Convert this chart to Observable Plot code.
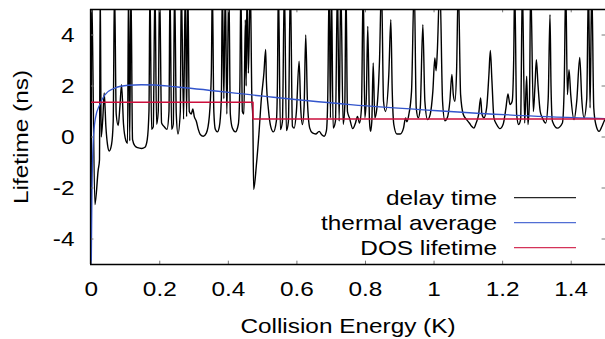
<!DOCTYPE html>
<html><head><meta charset="utf-8">
<script src="https://cdn.jsdelivr.net/npm/d3@7"></script>
<script src="https://cdn.jsdelivr.net/npm/@observablehq/plot@0.6"></script>
<style>html,body{margin:0;padding:0;background:#fff} svg{display:block}</style>
</head><body><div id="chart"></div>
<script>
// [collision energy (K), delay time (ns)] -- values above 5 are clipped resonance peaks
const delayTime = [
[0,-6],[0.001,6],[0.0108,-2.65],[0.0204,-1.3],[0.0242,-0.9],[0.0263,6],[0.0292,0.0],[0.0342,0.8],[0.038,1.73],[0.0429,0.4],
[0.0476,-0.3],[0.0526,-0.55],[0.0593,-0.3],[0.0642,0.6],[0.068,6],[0.073,0.9],[0.0788,0.45],[0.0838,1.2],[0.0885,2.05],[0.0943,0.5],
[0.1013,-0.15],[0.106,-0.25],[0.1089,6],[0.1124,-0.15],[0.1159,6],[0.1206,-0.1],[0.1276,-0.35],[0.1352,-0.42],[0.1469,-0.45],[0.1568,-0.4],
[0.1635,-0.1],[0.1685,1.0],[0.1714,6],[0.1761,0.3],[0.181,0.4],[0.186,6],[0.1907,0.5],[0.1956,1.0],[0.1994,6],[0.2053,0.55],
[0.2131,0.4],[0.221,0.3],[0.2269,1.0],[0.2298,6],[0.2345,0.3],[0.2394,0.5],[0.2432,6],[0.2482,0.9],
[0.2531,0.12],[0.2599,1.0],[0.2628,6],[0.2695,0.7],[0.2745,6],[0.2783,0.8],[0.2818,6],[0.2861,1.0],[0.292,0.9],[0.2964,1.1],
[0.3007,0.8],[0.3066,0.62],[0.3124,0.3],[0.3182,0.1],[0.327,0.03],[0.3358,0.15],[0.3445,0.8],[0.3504,2.5],[0.3533,6],[0.3577,1.0],
[0.362,0.3],[0.3679,0.2],[0.3737,0.4],[0.3796,1.5],[0.3825,6],[0.3869,1.5],[0.3912,6],[0.3956,0.9],[0.4015,6],[0.4058,0.9],
[0.4117,0.35],[0.4204,0.2],[0.4292,0.5],[0.4336,2.0],[0.4365,6],[0.4409,1.0],[0.4453,0.9],[0.4496,4.6],[0.452,2.0],[0.4546,6],
[0.4584,2.5],[0.4642,6],[0.4686,1.5],[0.4713,0.8],[0.4739,-2.06],[0.4818,-1.1],[0.4891,0.1],[0.4963,1.5],
[0.5037,2.5],[0.5089,3.43],[0.511,2.2],[0.5168,1.1],[0.5235,0.42],[0.5314,0.2],[0.5401,0.62],[0.5431,2.0],[0.546,6],[0.5518,0.29],
[0.5577,0.6],[0.5635,6],[0.5693,0.25],[0.5752,0.6],[0.581,6],[0.5869,0.42],[0.5918,0.35],[0.5985,1.0],[0.6064,2.97],[0.6111,1.14],
[0.6161,0.49],[0.621,1.2],[0.6257,4.0],[0.6307,1.4],[0.6374,0.35],[0.6453,0.16],[0.6549,0.12],[0.6648,0.22],[0.6724,0.09],[0.6794,0.03],
[0.6861,0.25],[0.6899,1.5],[0.694,6],[0.6978,0.75],[0.7007,6],[0.7057,0.35],[0.7124,0.62],[0.7183,6],[0.7232,0.62],[0.7279,6],
[0.7349,0.5],[0.7396,1.2],[0.7431,6],[0.7474,1.0],
[0.7533,0.75],[0.7629,0.33],[0.7708,0.55],[0.7767,0.81],[0.7825,0.55],[0.7883,1.14],[0.7933,6],[0.798,0.75],[0.8023,1.5],[0.8067,4.34],
[0.8117,0.62],[0.8146,0.22],[0.8184,0.6],[0.8225,2.9],[0.8272,0.75],[0.833,1.1],[0.8409,3.0],[0.8467,6],[0.8526,1.4],[0.8584,1.0],
[0.868,2.45],[0.8739,4.6],[0.878,1.8],[0.8826,0.49],[0.8914,0.12],[0.9013,0.12],[0.9109,0.35],[0.9168,0.75],[0.9206,0.6],[0.9264,0.88],
[0.9343,1.8],[0.9422,6],[0.948,1.14],[0.9539,0.75],[0.9597,1.14],[0.9673,4.4],[0.9732,1.4],[0.981,0.68],[0.9889,0.9],[0.9965,1.8],
[1.0023,3.1],[1.0058,2.6],[1.0093,3.3],
[1.0169,6],[1.0248,1.4],[1.0315,0.64],[1.0385,0.75],[1.0461,1.4],[1.052,2.45],[1.0561,1.66],[1.0607,1.4],[1.0657,2.6],[1.0707,6],
[1.0774,1.66],[1.0853,0.88],[1.0949,0.68],[1.1028,0.55],[1.1095,0.42],[1.1162,0.35],[1.1227,0.55],[1.1299,0.88],[1.1358,1.53],[1.1396,0.9],
[1.1454,0.75],[1.1533,1.14],[1.16,2.45],[1.1641,3.39],[1.1688,2.2],[1.1746,0.75],[1.1825,0.49],[1.1921,0.33],[1.2015,0.5],[1.2097,1.14],
[1.2155,1.69],[1.2214,1.27],[1.2278,1.4],[1.2322,3.0],[1.2351,6],[1.2409,0.88],[1.2468,0.49],[1.2526,0.7],
[1.2575,6],[1.2642,0.55],[1.2701,2.38],[1.2739,0.49],[1.2783,1.5],[1.2818,6],[1.2896,1.0],[1.2943,2.0],[1.2984,3.03],[1.3031,2.05],
[1.3096,1.0],[1.3159,0.75],[1.3256,0.55],[1.3329,1.5],[1.3381,4.8],[1.3411,2.0],[1.3452,0.62],[1.3597,0.35],[1.3743,0.55],[1.3796,2.0],
[1.384,6],[1.3889,1.66],[1.3936,2.64],[1.3986,1.66],[1.4082,0.68],[1.4161,1.4],[1.4249,3.12],[1.4307,1.5],[1.4374,0.75],[1.4453,1.5],
[1.4503,6],[1.455,1.14],[1.4599,6],[1.4658,1.14],[1.4717,0.5],[1.4813,0.22],[1.4891,0.4],[1.4959,0.62],[1.5038,0.8]
];
// thermal average [energy, lifetime]
const thermalAverage = [
[0,-5.5],[0.002,-2.5],[0.006,-0.16],[0.0126,0.75],[0.025,1.27],[0.04,1.65],[0.069,1.92],[0.108,2.03],[0.146,2.05],[0.186,2.04],
[0.245,1.97],[0.502,1.6],[0.756,1.27],[1.01,1.03],[1.258,0.84],[1.5,0.72]
];
// DOS lifetime step [energy, lifetime]
const dosLifetime = [[0,1.36],[0.472,1.36],[0.472,0.71],[1.5,0.71]];

const xDomain = [-0.002, 1.5];
const yDomain = [-5, 5];
const xTicks = [0, 0.2, 0.4, 0.6, 0.8, 1, 1.2, 1.4];
const yTicks = [-4, -2, 0, 2, 4];
const seriesNames = ["delay time", "thermal average", "DOS lifetime"];
const seriesColors = ["#000000", "#3355cc", "#cc0f3c"];
const xLabel = "Collision Energy (K)";
const yLabel = "Lifetime (ns)";

const FONT = "'Liberation Sans', Arial, Helvetica, sans-serif";
const FS = 21;

const toObj = a => a.map(([e, t]) => ({e, t}));

const svg = Plot.plot({
  width: 605, height: 339,
  marginLeft: 90, marginRight: 0, marginTop: 9, marginBottom: 75,
  x: {domain: xDomain, axis: null},
  y: {domain: yDomain, axis: null},
  style: {fontFamily: FONT, fontSize: FS + "px", color: "#000", background: "#fff", overflow: "hidden"},
  marks: [
    Plot.line(toObj(delayTime), {x: "e", y: "t", stroke: seriesColors[0], strokeWidth: 1.4, clip: true, curve: "monotone-x"}),
    Plot.line(toObj(thermalAverage), {x: "e", y: "t", stroke: seriesColors[1], strokeWidth: 1.3, clip: true, curve: "monotone-x"}),
    Plot.line(toObj(dosLifetime), {x: "e", y: "t", stroke: seriesColors[2], strokeWidth: 1.5, clip: true}),
    // inward ticks
    Plot.ruleX(xTicks, {x: d => d, y1: yDomain[0], y2: yDomain[0] + 0.13, stroke: "#777", strokeWidth: 1}),
    Plot.ruleX(xTicks, {x: d => d, y1: yDomain[1], y2: yDomain[1] - 0.13, stroke: "#777", strokeWidth: 1}),
    Plot.ruleY(yTicks, {y: d => d, x1: xDomain[0], x2: xDomain[0] + 0.01, stroke: "#777", strokeWidth: 1}),
    Plot.ruleY(yTicks, {y: d => d, x1: xDomain[1] - 0.01, x2: xDomain[1], stroke: "#777", strokeWidth: 1}),
    // border (top, left, bottom)
    Plot.ruleY([yDomain[0], yDomain[1]], {stroke: "#000", strokeWidth: 1.3}),
    Plot.ruleX([xDomain[0]], {stroke: "#000", strokeWidth: 1.3}),
    // tick labels
    Plot.text(xTicks, {x: d => d, frameAnchor: "bottom", dy: 25, text: d => String(d), fontSize: FS, textAnchor: "middle", lineAnchor: "middle", fill: "#000"}),
    Plot.text(yTicks, {y: d => d, frameAnchor: "left", dx: -16, textAnchor: "end", text: d => String(d), fontSize: FS, lineAnchor: "middle", fill: "#000"}),
    // axis titles
    Plot.text([xLabel], {frameAnchor: "bottom", dy: 62, text: d => d, fontSize: FS, textAnchor: "middle", lineAnchor: "middle", fill: "#000"}),
    Plot.text([yLabel], {frameAnchor: "left", dx: -69, rotate: -90, text: d => d, fontSize: FS, textAnchor: "middle", lineAnchor: "middle", fill: "#000"})
  ]
});

// legend
const lg = d3.select(svg).append("g").attr("font-family", FONT).attr("font-size", FS);
seriesNames.forEach((name, i) => {
  const y = 197.7 + i * 25;
  lg.append("text").attr("transform", `translate(497,${y + 7.3})`).attr("text-anchor", "end").attr("fill", "#000").text(name);
  lg.append("line").attr("x1", 514).attr("x2", 576).attr("y1", y).attr("y2", y)
    .attr("stroke", seriesColors[i]).attr("stroke-width", 1.3).attr("stroke-opacity", 0.85);
});

// the reference font is wider than Arial: stretch along the baseline
const SX = 1.16;
svg.querySelectorAll("text").forEach(t => {
  const tr = t.getAttribute("transform") || "";
  t.setAttribute("transform", tr + ` scale(${SX},1)`);
  const x = t.getAttribute("x");
  if (x && !isNaN(parseFloat(x))) t.setAttribute("x", parseFloat(x) / SX);
});

document.getElementById("chart").appendChild(svg);
</script>
</body></html>
